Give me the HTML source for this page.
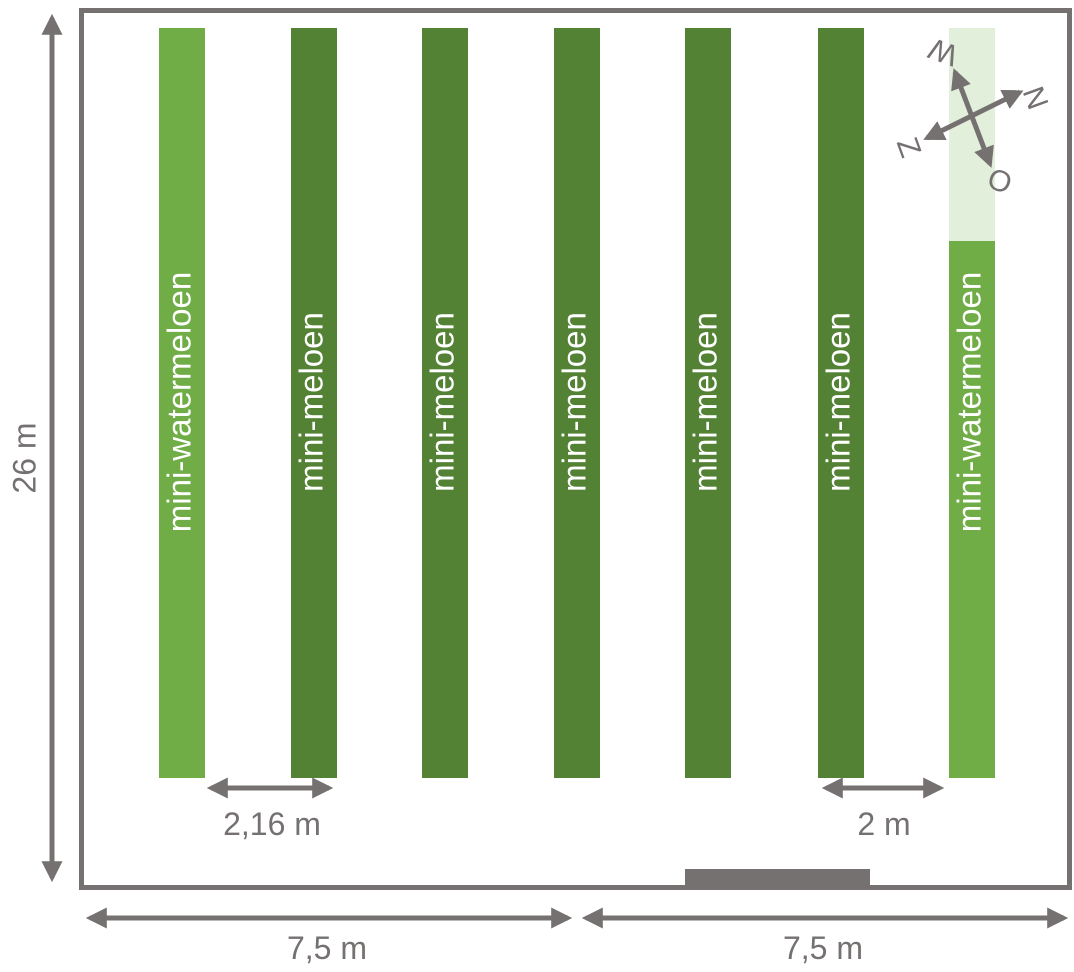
<!DOCTYPE html>
<html><head><meta charset="utf-8"><style>
body{margin:0;background:#fff;width:1074px;height:972px;overflow:hidden}
svg{display:block}
text{font-family:"Liberation Sans",sans-serif;fill:#767171}
</style></head><body>
<svg width="1074" height="972" viewBox="0 0 1074 972">
<defs>
<marker id="ah" viewBox="0 0 10 10" refX="8" refY="5" markerWidth="4.2" markerHeight="4.2" orient="auto-start-reverse"><path d="M0,0L10,5L0,10z" fill="#767171"/></marker>
</defs>
<rect x="81.5" y="10.5" width="988" height="877" fill="none" stroke="#767171" stroke-width="5"/>
<rect x="685" y="869" width="185" height="18" fill="#767171"/>
<g id="strips"></g>
<g stroke="#767171" stroke-width="5" fill="none">
<line x1="52" y1="18" x2="52" y2="878" marker-start="url(#ah)" marker-end="url(#ah)"/>
<line x1="90" y1="918" x2="568" y2="918" marker-start="url(#ah)" marker-end="url(#ah)"/>
<line x1="586" y1="918" x2="1064" y2="918" marker-start="url(#ah)" marker-end="url(#ah)"/>
<line x1="211" y1="788" x2="329" y2="788" marker-start="url(#ah)" marker-end="url(#ah)"/>
<line x1="826" y1="788" x2="940" y2="788" marker-start="url(#ah)" marker-end="url(#ah)"/>
</g>
<text x="27" y="458" font-size="32" text-anchor="middle" dominant-baseline="middle" transform="rotate(-90 27 458)">26 m</text>
<text x="272" y="835" font-size="32" text-anchor="middle">2,16 m</text>
<text x="884" y="835" font-size="32" text-anchor="middle">2 m</text>
<text x="327" y="959" font-size="32" text-anchor="middle">7,5 m</text>
<text x="823" y="959" font-size="32" text-anchor="middle">7,5 m</text>
<g stroke="#767171" stroke-width="5">
<line x1="955" y1="72" x2="990" y2="164" marker-start="url(#ah)" marker-end="url(#ah)"/>
<line x1="1020" y1="92" x2="927" y2="138" marker-start="url(#ah)" marker-end="url(#ah)"/>
</g>
<text x="944" y="50" font-size="30" text-anchor="middle" dominant-baseline="middle" transform="rotate(-160 944 50)">W</text>
<text x="1038" y="97" font-size="30" text-anchor="middle" dominant-baseline="middle" transform="rotate(-110 1038 97)">N</text>
<text x="907" y="148" font-size="30" text-anchor="middle" dominant-baseline="middle" transform="rotate(70 907 148)">Z</text>
<text x="999" y="183" font-size="30" text-anchor="middle" dominant-baseline="middle" transform="rotate(20 999 183)">O</text>
</svg>
<script>
const stripX=[159,291,422,554,685,818,949];
const stripLabels=["mini-watermeloen","mini-meloen","mini-meloen","mini-meloen","mini-meloen","mini-meloen","mini-watermeloen"];
const stripTypes=["light","dark","dark","dark","dark","dark","light"];
const g=document.getElementById('strips');
const NS='http://www.w3.org/2000/svg';
stripX.forEach((x,i)=>{
 const r=document.createElementNS(NS,'rect');
 r.setAttribute('x',x);r.setAttribute('y',28);r.setAttribute('width',46);r.setAttribute('height',750);
 r.setAttribute('fill',stripTypes[i]==='light'?'#70ad47':'#548235');
 
 
 g.appendChild(r);
 if(i===stripX.length-1){
  const p=document.createElementNS(NS,'rect');
  p.setAttribute('x',x);p.setAttribute('y',28);p.setAttribute('width',46);p.setAttribute('height',213);
  p.setAttribute('fill','#e2efda');
  
  
  g.appendChild(p);
 }
 const t=document.createElementNS(NS,'text');
 const cx=x+23,cy=402;
 t.setAttribute('x',cx);t.setAttribute('y',cy);
 t.setAttribute('font-size','33');t.setAttribute('text-anchor','middle');t.setAttribute('dominant-baseline','middle');
 t.setAttribute('transform','rotate(-90 '+cx+' '+cy+')');
 t.setAttribute('style','fill:#fff');
 t.textContent=stripLabels[i];
 
 
 g.appendChild(t);
});
</script>
</body></html>
